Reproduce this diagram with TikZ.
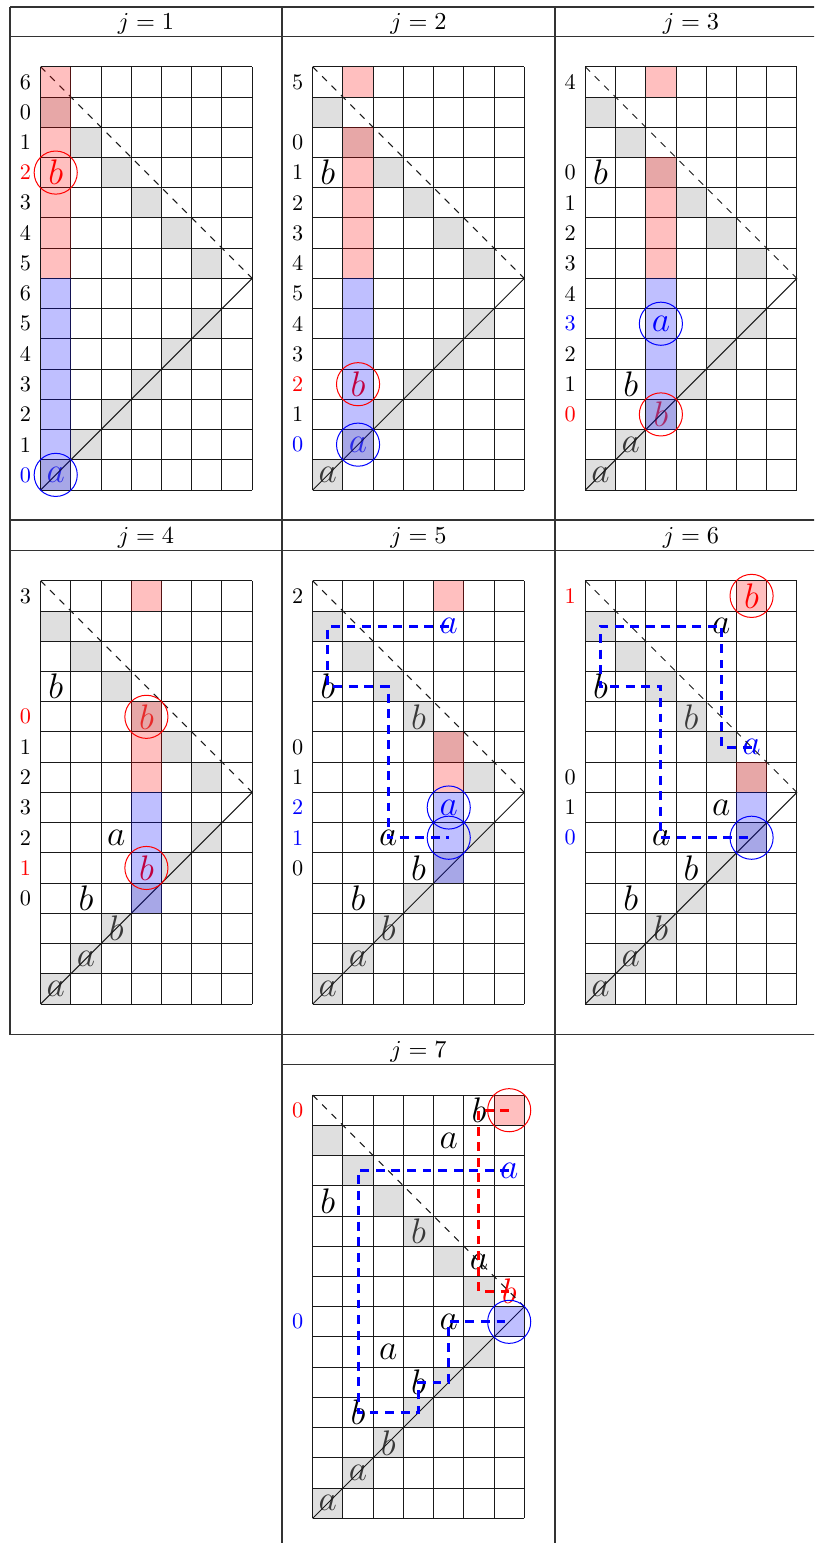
\documentclass[tikz,border=0pt]{standalone}
\tikzset{
  tabline/.style={line width=0.6pt, black!80},
  gline/.style={line width=0.45pt, black!90},
  gcell/.style={fill=black!35, fill opacity=0.35},
  rcell/.style={fill=red, fill opacity=0.25},
  bcell/.style={fill=blue, fill opacity=0.25},
  lett/.style={font=\Large, inner sep=0pt, scale=1.11, transform shape},
  lab/.style={font=\normalsize, inner sep=0pt},
  hdr/.style={font=\fontsize{11}{13}\selectfont, inner sep=0pt, anchor=base},
  ring/.style={circle, minimum size=19.4pt, inner sep=0pt, line width=0.45pt},
  bpath/.style={draw=blue, line width=1.35pt, dash pattern=on 4pt off 3pt},
  rpath/.style={draw=red, line width=1.35pt, dash pattern=on 4pt off 3pt},
  cellunit/.style={x=13.6035pt, y=13.6035pt},
}
\newcommand\panelbase[1]{%
  \foreach \k in {0,...,5}{%
    \fill[gcell] (\k,\k) rectangle ++(1,1);
    \fill[gcell] (\k,12-\k) rectangle ++(1,1);
  }
  \foreach \k in {0,...,7}{\draw[gline] (\k,0) -- (\k,14);}
  \foreach \k in {0,...,14}{\draw[gline] (0,\k) -- (7,\k);}
  \draw[gline] (0,0) -- (7,7);
  \draw[gline, dash pattern=on 3pt off 3pt] (0,14) -- (7,7);
  \fill[rcell] (#1,13) rectangle ++(1,1);
  \ifnum#1<6 \fill[rcell] (#1,7) rectangle (#1+1,13-#1);\fi
  \fill[bcell] (#1,#1) rectangle (#1+1,7);
}
\begin{document}
\begin{tikzpicture}[x=0.45pt, y=-0.45pt]
\useasboundingbox (0,0) rectangle (814,1543);
\fill[white] (0,0) rectangle (814,1543);
\clip (0,0) rectangle (814,1543);

% table
\draw[tabline] (10,7) -- (827,7);
\draw[tabline] (10,36.5) -- (827,36.5);
\draw[tabline] (10,520) -- (827,520);
\draw[tabline] (10,550.5) -- (827,550.5);
\draw[tabline] (10,1034.5) -- (827,1034.5);
\draw[tabline] (282,1064.5) -- (555,1064.5);
\draw[tabline] (10,7) -- (10,1034.5);
\draw[tabline] (282,7) -- (282,1548);
\draw[tabline] (555,7) -- (555,1548);
\draw[tabline] (827,7) -- (827,1034.5);
\draw[tabline] (282,1548) -- (555,1548);

\node[hdr] (h1) at (146,29.4) {$j=1$};
\node[hdr] (h2) at (418.5,29.4) {$j=2$};
\node[hdr] (h3) at (691,29.4) {$j=3$};
\node[hdr] (h4) at (146,543) {$j=4$};
\node[hdr] (h5) at (418.5,543) {$j=5$};
\node[hdr] (h6) at (691,543) {$j=6$};
\node[hdr] (h7) at (418.5,1057.5) {$j=7$};

% ---------- j = 1
\begin{scope}[shift={(40.6,490)}, cellunit]
\node[lett,text=red] (p1b) at (0.5,10.5) {$b$};
\node[lett,text=blue] (p1a) at (0.5,0.5) {$a$};
\panelbase{0}
\node[ring,draw=red] (p1rb) at (p1b) {};
\node[ring,draw=blue] (p1ra) at (p1a) {};
\foreach \r/\t in {13/6,12/0,11/1,9/3,8/4,7/5,6/6,5/5,4/4,3/3,2/2,1/1}{\node[lab] (p1l\r) at (-0.5,\r+0.5) {\t};}
\node[lab,text=red] (p1l10) at (-0.5,10.5) {2};
\node[lab,text=blue] (p1l0) at (-0.5,0.5) {0};
\end{scope}

% ---------- j = 2
\begin{scope}[shift={(312.7,490)}, cellunit]
\node[lett] (p2b1) at (0.5,10.5) {$b$};
\node[lett] (p2a1) at (0.5,0.5) {$a$};
\node[lett,text=blue] (p2a2) at (1.5,1.5) {$a$};
\node[lett,text=red] (p2b2) at (1.5,3.5) {$b$};
\panelbase{1}
\node[ring,draw=blue] (p2ra) at (p2a2) {};
\node[ring,draw=red] (p2rb) at (p2b2) {};
\foreach \r/\t in {13/5,11/0,10/1,9/2,8/3,7/4,6/5,5/4,4/3,2/1}{\node[lab] (p2l\r) at (-0.5,\r+0.5) {\t};}
\node[lab,text=red] (p2l3) at (-0.5,3.5) {2};
\node[lab,text=blue] (p2l1) at (-0.5,1.5) {0};
\end{scope}

% ---------- j = 3
\begin{scope}[shift={(585.3,490)}, cellunit]
\node[lett] (p3b1) at (0.5,10.5) {$b$};
\node[lett] (p3b2) at (1.5,3.5) {$b$};
\node[lett] (p3a1) at (0.5,0.5) {$a$};
\node[lett] (p3a2) at (1.5,1.5) {$a$};
\node[lett,text=blue] (p3a3) at (2.5,5.5) {$a$};
\node[lett,text=red] (p3b3) at (2.5,2.5) {$b$};
\panelbase{2}
\node[ring,draw=blue] (p3ra) at (p3a3) {};
\node[ring,draw=red] (p3rb) at (p3b3) {};
\foreach \r/\t in {13/4,10/0,9/1,8/2,7/3,6/4,4/2,3/1}{\node[lab] (p3l\r) at (-0.5,\r+0.5) {\t};}
\node[lab,text=blue] (p3l5) at (-0.5,5.5) {3};
\node[lab,text=red] (p3l2) at (-0.5,2.5) {0};
\end{scope}

% ---------- j = 4
\begin{scope}[shift={(40.6,1004)}, cellunit]
\node[lett] (p4b1) at (0.5,10.5) {$b$};
\node[lett,text=red] (p4b2) at (3.5,9.5) {$b$};
\node[lett] (p4a1) at (2.5,5.5) {$a$};
\node[lett,text=red] (p4b3) at (3.5,4.5) {$b$};
\node[lett] (p4b4) at (1.5,3.5) {$b$};
\node[lett] (p4b5) at (2.5,2.5) {$b$};
\node[lett] (p4a2) at (1.5,1.5) {$a$};
\node[lett] (p4a3) at (0.5,0.5) {$a$};
\panelbase{3}
\node[ring,draw=red] (p4r1) at (p4b2) {};
\node[ring,draw=red] (p4r2) at (p4b3) {};
\foreach \r/\t in {13/3,8/1,7/2,6/3,5/2,3/0}{\node[lab] (p4l\r) at (-0.5,\r+0.5) {\t};}
\node[lab,text=red] (p4l9) at (-0.5,9.5) {0};
\node[lab,text=red] (p4l4) at (-0.5,4.5) {1};
\end{scope}

% ---------- j = 5
\begin{scope}[shift={(312.7,1004)}, cellunit]
\node[lett,text=blue] (p5a1) at (4.5,12.5) {$a$};
\node[lett] (p5b1) at (0.5,10.5) {$b$};
\node[lett] (p5b2) at (3.5,9.5) {$b$};
\node[lett,text=blue] (p5a2) at (4.5,6.5) {$a$};
\node[lett] (p5a3) at (2.5,5.5) {$a$};
\node[lett] (p5b3) at (3.5,4.5) {$b$};
\node[lett] (p5b4) at (1.5,3.5) {$b$};
\node[lett] (p5b5) at (2.5,2.5) {$b$};
\node[lett] (p5a4) at (1.5,1.5) {$a$};
\node[lett] (p5a5) at (0.5,0.5) {$a$};
\coordinate (p5e) at (4.5,5.5);
\panelbase{4}
\node[ring,draw=blue] (p5r1) at (p5a2) {};
\node[ring,draw=blue] (p5r2) at (p5e) {};
\draw[bpath] (p5a1.center) -| (p5b1.center) -| (p5a3.center) -- (p5r2.center);
\foreach \r/\t in {13/2,8/0,7/1,4/0}{\node[lab] (p5l\r) at (-0.5,\r+0.5) {\t};}
\node[lab,text=blue] (p5l6) at (-0.5,6.5) {2};
\node[lab,text=blue] (p5l5) at (-0.5,5.5) {1};
\end{scope}

% ---------- j = 6
\begin{scope}[shift={(585.3,1004)}, cellunit]
\node[lett,text=red] (p6b0) at (5.5,13.5) {$b$};
\node[lett] (p6a1) at (4.5,12.5) {$a$};
\node[lett] (p6b1) at (0.5,10.5) {$b$};
\node[lett] (p6b2) at (3.5,9.5) {$b$};
\node[lett,text=blue] (p6a0) at (5.5,8.5) {$a$};
\node[lett] (p6a2) at (4.5,6.5) {$a$};
\node[lett] (p6a3) at (2.5,5.5) {$a$};
\node[lett] (p6b3) at (3.5,4.5) {$b$};
\node[lett] (p6b4) at (1.5,3.5) {$b$};
\node[lett] (p6b5) at (2.5,2.5) {$b$};
\node[lett] (p6a4) at (1.5,1.5) {$a$};
\node[lett] (p6a5) at (0.5,0.5) {$a$};
\coordinate (p6e) at (5.5,5.5);
\panelbase{5}
\node[ring,draw=red] (p6r1) at (p6b0) {};
\node[ring,draw=blue] (p6r2) at (p6e) {};
\draw[bpath] (p6a0.center) -| (p6a1.center) -| (p6b1.center) -| (p6a3.center) -- (p6r2.center);
\foreach \r/\t in {7/0,6/1}{\node[lab] (p6l\r) at (-0.5,\r+0.5) {\t};}
\node[lab,text=red] (p6l13) at (-0.5,13.5) {1};
\node[lab,text=blue] (p6l5) at (-0.5,5.5) {0};
\end{scope}

% ---------- j = 7
\begin{scope}[shift={(312.7,1518.3)}, cellunit]
\node[lett] (p7b0) at (5.5,13.5) {$b$};
\node[lett] (p7a1) at (4.5,12.5) {$a$};
\node[lett,text=blue] (p7a0) at (6.5,11.5) {$a$};
\node[lett] (p7b1) at (0.5,10.5) {$b$};
\node[lett] (p7b2) at (3.5,9.5) {$b$};
\node[lett] (p7a6) at (5.5,8.5) {$a$};
\node[lett,text=red] (p7b6) at (6.5,7.5) {$b$};
\node[lett] (p7a2) at (4.5,6.5) {$a$};
\node[lett] (p7a3) at (2.5,5.5) {$a$};
\node[lett] (p7b3) at (3.5,4.5) {$b$};
\node[lett] (p7b4) at (1.5,3.5) {$b$};
\node[lett] (p7b5) at (2.5,2.5) {$b$};
\node[lett] (p7a4) at (1.5,1.5) {$a$};
\node[lett] (p7a5) at (0.5,0.5) {$a$};
\coordinate (p7e1) at (6.5,13.5);
\coordinate (p7e2) at (6.5,6.5);
\panelbase{6}
\node[ring,draw=red] (p7r1) at (p7e1) {};
\node[ring,draw=blue] (p7r2) at (p7e2) {};
\draw[rpath] (p7r1.center) -- (p7b0.center) |- (p7b6.center);
\draw[bpath] (p7a0.center) -| (p7b4.center) -| (p7b3.center) -| (p7a2.center) -- (p7r2.center);
\node[lab,text=red] (p7l13) at (-0.5,13.5) {0};
\node[lab,text=blue] (p7l6) at (-0.5,6.5) {0};
\end{scope}
\end{tikzpicture}
\end{document}
